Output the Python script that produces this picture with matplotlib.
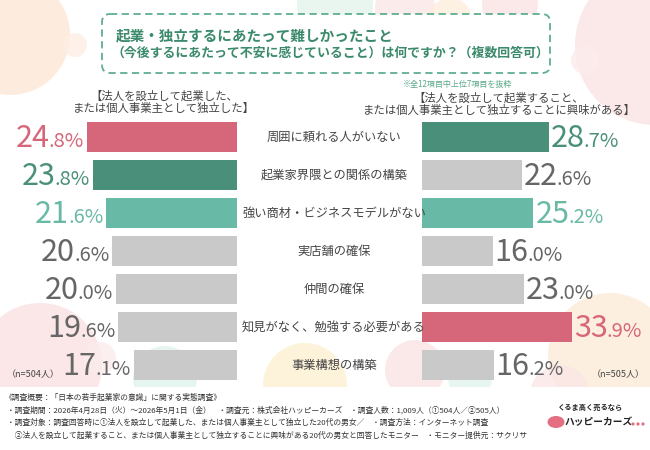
import numpy as np
import matplotlib.pyplot as plt
from matplotlib.patches import Circle, FancyBboxPatch, Rectangle, Ellipse
from matplotlib.transforms import blended_transform_factory

plt.rcParams['font.family'] = ['Noto Sans CJK JP', 'DejaVu Sans']

# データ
items = ['周囲に頼れる人がいない', '起業家界隈との関係の構築', '強い商材・ビジネスモデルがない',
         '実店舗の確保', '仲間の確保', '知見がなく、勉強する必要がある', '事業構想の構築']
founded = [24.8, 23.8, 21.6, 20.6, 20.0, 19.6, 17.1]      # ① n=504
interested = [28.7, 22.6, 25.2, 16.0, 23.0, 33.9, 16.2]   # ② n=505

title1 = '起業・独立するにあたって難しかったこと'
title2 = '（今後するにあたって不安に感じていること）は何ですか？（複数回答可）'
head_l = '【法人を設立して起業した、\nまたは個人事業主として独立した】'
head_r = '【法人を設立して起業すること、\nまたは個人事業主として独立することに興味がある】'
note = '※全12項目中上位7項目を抜粋'
footer = [
    '《調査概要：「日本の若手起業家の意識」に関する実態調査》',
    '・調査期間：2026年4月28日（火）～2026年5月1日（金）　・調査元：株式会社ハッピーカーズ　・調査人数：1,009人（①504人／②505人）',
    '・調査対象：調査回答時に①法人を設立して起業した、または個人事業主として独立した20代の男女／　・調査方法：インターネット調査',
    '　②法人を設立して起業すること、または個人事業主として独立することに興味がある20代の男女と回答したモニター　・モニター提供元：サクリサ',
]

PINK = '#d6677a'
DGREEN = '#4a8f79'
TEAL = '#68b9a5'
GRAY = '#c9c9c9'
TXT_GRAY = '#666666'

W, H = 650, 450
fig = plt.figure(figsize=(6.5, 4.5), dpi=100)


def fig_rect(x0, y0, x1, y1):
    # ピクセル(左上原点) -> figure座標
    return [x0 / W, 1 - y1 / H, (x1 - x0) / W, (y1 - y0) / H]


# 背景
bg = fig.add_axes([0, 0, 1, 1])
bg.set_xlim(0, W)
bg.set_ylim(H, 0)
bg.axis('off')

bubbles = [
    (10, 35, 60, '#fde6d6'), (75, 45, 12, '#fdeee4'), (335, 5, 38, '#e4f3ec'),
    (405, 8, 30, '#fbe6e6'), (450, 20, 22, '#fdeedd'), (510, 5, 28, '#fbe4e4'),
    (655, 45, 80, '#fbe3e3'), (585, 60, 14, '#fcecec'),
    (40, 365, 62, '#fbe1e1'), (50, 333, 9, '#fbe6e6'), (100, 358, 16, '#fcebeb'),
    (165, 378, 32, '#dff3ed'), (305, 385, 42, '#fdf1d2'), (415, 370, 30, '#fbe4e4'),
    (470, 378, 22, '#e2f4ee'), (610, 355, 62, '#fdebd9'), (560, 395, 30, '#fbe7e7'),
]
for bx, by, br, bc in bubbles:
    bg.add_patch(Circle((bx, by), br, color=bc, alpha=0.8, lw=0))
bg.add_patch(Rectangle((0, 387), W, H - 387, color='white', lw=0))

# タイトル枠
bg.add_patch(FancyBboxPatch((102, 14), 448, 59, boxstyle='round,pad=0,rounding_size=8',
                            fill=True, fc='white', ec='#5fae8f', lw=1.3, ls=(0, (4, 2.5))))
bg.text(116, 35, title1, fontsize=10.5, weight='bold', color='#3b8a6b', va='center')
bg.text(111, 53, title2, fontsize=9.3, weight='bold', color='#3b8a6b', va='center')

bg.text(164, 102, head_l, fontsize=8.2, color='#444444', ha='center', va='center', linespacing=1.15)
bg.text(499, 104, head_r, fontsize=8.2, color='#444444', ha='center', va='center', linespacing=1.15)
bg.text(458, 84, note, fontsize=5.8, color='#5aa88a', ha='center', va='center')

bg.text(7, 375, '（n=504人）', fontsize=6.5, color='#444444', va='center')
bg.text(592, 375, '（n=505人）', fontsize=6.5, color='#444444', va='center')

for k, line in enumerate(footer):
    bg.text(5 if k == 0 else 7, 398 + 12.5 * k, line, fontsize=5.6, color='#333333', va='center')

# ロゴ
bg.text(591, 407, 'くるま高く売るなら', fontsize=5.2, weight='bold', color='#222222', ha='center', va='center')
bg.add_patch(Ellipse((556, 422), 17, 12, color='#e46f80', lw=0))
bg.text(565, 422, 'ハッピーカーズ', fontsize=7.0, weight='bold', color='#222222', va='center')
for dx in (0, 5, 10):
    bg.add_patch(Circle((633 + dx, 424), 1.6, color='#e46f80', lw=0))

# 棒グラフ
rank_colors = [PINK, DGREEN, TEAL]


def colors_for(vals):
    order = np.argsort(vals)[::-1]
    bar_c = [GRAY] * len(vals)
    txt_c = [TXT_GRAY] * len(vals)
    for r, idx in enumerate(order[:3]):
        bar_c[idx] = rank_colors[r]
        txt_c[idx] = rank_colors[r]
    return bar_c, txt_c


y = np.arange(len(items))
BIG, SMALL = 22, 14.5
DY = -10

ax_l = fig.add_axes(fig_rect(0, 118, 237, 384))
ax_r = fig.add_axes(fig_rect(422, 118, 650, 384))
for ax in (ax_l, ax_r):
    ax.set_ylim(len(items) - 0.5, -0.5)
    ax.axis('off')
    ax.patch.set_alpha(0)
ax_l.set_xlim(237 / 6.05, 0)
ax_r.set_xlim(0, 228 / 4.42)

bc, tc = colors_for(founded)
ax_l.barh(y, founded, height=0.79, color=bc)
for i, v in enumerate(founded):
    big, small = f'{v:.1f}'.split('.')
    s = ax_l.annotate('.' + small + '%', xy=(v, i), xytext=(-3, DY), textcoords='offset pixels',
                      ha='right', va='baseline', fontsize=SMALL, weight='normal', color=tc[i])
    ax_l.annotate(big, xy=(0, i), xycoords=(s, 'data'), xytext=(1, DY), textcoords='offset pixels',
                  ha='right', va='baseline', fontsize=BIG, weight='normal', color=tc[i])

bc, tc = colors_for(interested)
ax_r.barh(y, interested, height=0.79, color=bc)
for i, v in enumerate(interested):
    big, small = f'{v:.1f}'.split('.')
    b = ax_r.annotate(big, xy=(v, i), xytext=(2, DY), textcoords='offset pixels',
                      ha='left', va='baseline', fontsize=BIG, weight='normal', color=tc[i])
    ax_r.annotate('.' + small + '%', xy=(1, i), xycoords=(b, 'data'), xytext=(-1, DY),
                  textcoords='offset pixels', ha='left', va='baseline', fontsize=SMALL,
                  weight='normal', color=tc[i])

lab_tr = blended_transform_factory(ax_r.transAxes, ax_r.transData)
for i, name in enumerate(items):
    ax_r.text((334 - 422) / 228, i, name, transform=lab_tr, ha='center', va='center',
              fontsize=8.8, color='#444444')

fig.savefig('out.png', dpi=100)
